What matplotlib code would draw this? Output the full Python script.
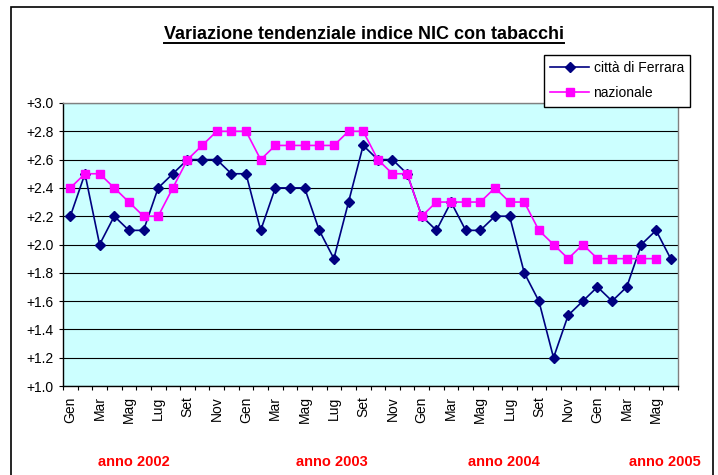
import matplotlib
matplotlib.use('Agg')
import matplotlib.pyplot as plt
from matplotlib.patches import Rectangle
from matplotlib.lines import Line2D
from matplotlib.ticker import FixedLocator, FuncFormatter

plt.rcParams['font.family'] = ['Liberation Sans', 'DejaVu Sans']

# mesi da gennaio 2002 a giugno 2005
mesi = ['Gen', 'Feb', 'Mar', 'Apr', 'Mag', 'Giu', 'Lug', 'Ago', 'Set', 'Ott', 'Nov', 'Dic']
etichette = (mesi * 4)[:42]

ferrara = [2.2, 2.5, 2.0, 2.2, 2.1, 2.1, 2.4, 2.5, 2.6, 2.6, 2.6, 2.5,
           2.5, 2.1, 2.4, 2.4, 2.4, 2.1, 1.9, 2.3, 2.7, 2.6, 2.6, 2.5,
           2.2, 2.1, 2.3, 2.1, 2.1, 2.2, 2.2, 1.8, 1.6, 1.2, 1.5, 1.6,
           1.7, 1.6, 1.7, 2.0, 2.1, 1.9]
nazionale = [2.4, 2.5, 2.5, 2.4, 2.3, 2.2, 2.2, 2.4, 2.6, 2.7, 2.8, 2.8,
             2.8, 2.6, 2.7, 2.7, 2.7, 2.7, 2.7, 2.8, 2.8, 2.6, 2.5, 2.5,
             2.2, 2.3, 2.3, 2.3, 2.3, 2.4, 2.3, 2.3, 2.1, 2.0, 1.9, 2.0,
             1.9, 1.9, 1.9, 1.9, 1.9]
anni = ['anno 2002', 'anno 2003', 'anno 2004', 'anno 2005']

W, H = 718, 475
fig = plt.figure(figsize=(W / 100, H / 100), dpi=100)

# cornice esterna
fig.patches.append(Rectangle((11 / W, -0.05), (713 - 11) / W, (H - 7) / H + 0.05,
                             transform=fig.transFigure, fill=False,
                             edgecolor='black', linewidth=1.2))

ax = fig.add_axes([63 / W, 1 - 386 / H, 615 / W, 283 / H])
ax.set_facecolor('#CCFFFF')

ax.plot(range(len(ferrara)), ferrara, color='#000080', marker='D', markersize=5,
        linewidth=1.2, label='città di Ferrara')
ax.plot(range(len(nazionale)), nazionale, color='#FF00FF', marker='s', markersize=5.5,
        linewidth=1.2, label='nazionale')

ax.set_xlim(-0.5, len(etichette) - 0.5)
ax.set_ylim(1.0, 3.0)
ax.set_yticks([1.0 + 0.2 * i for i in range(11)])
ax.yaxis.set_major_formatter(FuncFormatter(lambda v, p: '+%.1f' % v))
ax.grid(axis='y', color='black', linewidth=0.8)
ax.set_axisbelow(True)

ax.set_xticks(range(0, len(etichette), 2))
ax.set_xticklabels(etichette[::2], rotation=90, fontsize=10)
ax.xaxis.set_minor_locator(FixedLocator([i - 0.5 for i in range(len(etichette) + 1)]))
ax.tick_params(axis='x', which='major', length=0, pad=7.5)
ax.tick_params(axis='x', which='minor', length=3, width=0.8)
ax.tick_params(axis='y', length=3, width=0.8, pad=3.5, labelsize=10)

for lato in ['top', 'right']:
    ax.spines[lato].set_color('#808080')
for lato in ['left', 'bottom']:
    ax.spines[lato].set_color('black')
for s in ax.spines.values():
    s.set_linewidth(1.0)

# etichette degli anni
pos_anni = [134, 332, 504, 665]
for testo, px in zip(anni, pos_anni):
    fig.text(px / W, 1 - 462 / H, testo, ha='center', va='center',
             color='red', fontsize=10.5, fontweight='bold')

leg = fig.legend(loc='upper right', bbox_to_anchor=(690 / W, 1 - 55 / H),
                 fontsize=10, frameon=True, fancybox=False, edgecolor='black',
                 framealpha=1, borderaxespad=0, handlelength=2.8,
                 handletextpad=0.3, labelspacing=0.8, borderpad=0.45)
leg.get_frame().set_linewidth(1.0)

titolo = fig.text(364 / W, 1 - 39 / H, 'Variazione tendenziale indice NIC con tabacchi',
                  ha='center', va='baseline', fontsize=13, fontweight='bold')
fig.canvas.draw()
bb = titolo.get_window_extent()
y_sott = (H - 43) / H
fig.add_artist(Line2D([bb.x0 / W, bb.x1 / W], [y_sott, y_sott],
                      transform=fig.transFigure, color='black', linewidth=1.4))

fig.savefig('out.png', dpi=100)
